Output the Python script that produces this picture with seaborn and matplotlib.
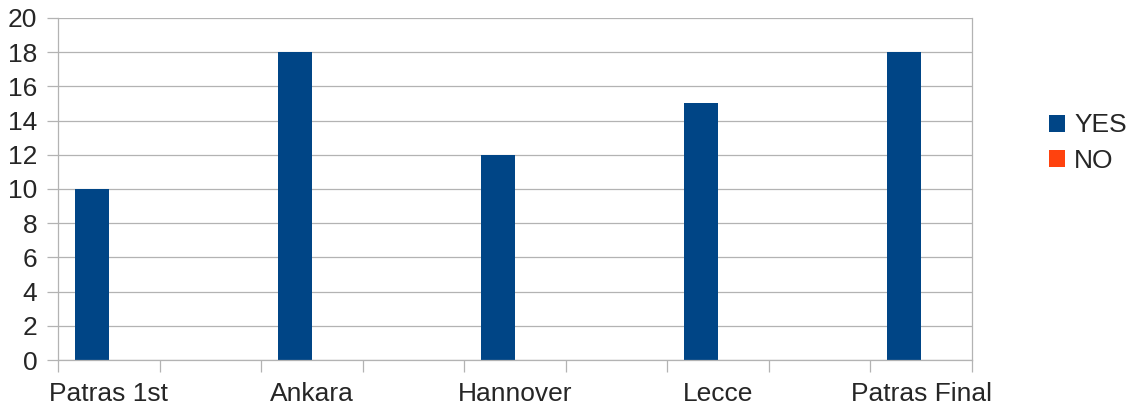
import pandas as pd
import matplotlib
matplotlib.use("Agg")
import matplotlib.pyplot as plt
import seaborn as sns

# chart data
events = ["Patras 1st", "Ankara", "Hannover", "Lecce", "Patras Final"]
yes_counts = [10, 18, 12, 15, 18]
no_counts = [0, 0, 0, 0, 0]
series = ["YES", "NO"]
colors = ["#004586", "#ff420e"]
y_ticks = [0, 2, 4, 6, 8, 10, 12, 14, 16, 18, 20]

grid_col = "#b3b3b3"
fs = 19

sns.set_style("white")
plt.rcParams["font.family"] = ["Liberation Sans", "DejaVu Sans"]
plt.rcParams["font.size"] = fs

# long-form table for seaborn
df = pd.DataFrame({
    "Event": events * 2,
    "Answer": ["YES"] * len(events) + ["NO"] * len(events),
    "Count": yes_counts + no_counts,
})

fig = plt.figure(figsize=(11.33, 4.11), dpi=100)
ax = fig.add_axes([58 / 1133, 1 - 360 / 411, (972 - 58) / 1133, (360 - 18) / 411])

sns.barplot(data=df, x="Event", y="Count", hue="Answer", hue_order=series,
            palette=colors, width=1 / 3, gap=0, saturation=1, ax=ax,
            errorbar=None, linewidth=0)

# axes range and grid
ax.set_ylim(0, 20)
ax.set_xlim(-0.25, len(events) - 0.75)
ax.set_yticks(y_ticks)
ax.yaxis.grid(True, color=grid_col, linewidth=0.9)
ax.set_axisbelow(True)
ax.set_xlabel("")
ax.set_ylabel("")

# category labels without marks, tick marks every half category
ax.set_xticks(range(len(events)))
ax.set_xticklabels(events)
ax.set_xticks([i * 0.5 - 0.25 for i in range(2 * len(events))], minor=True)
ax.tick_params(axis="x", which="major", bottom=True, length=0, pad=16, labelsize=fs)
ax.tick_params(axis="x", which="minor", bottom=True, length=8.5, width=0.9, color=grid_col)
ax.tick_params(axis="y", left=True, length=8, width=0.9, color=grid_col, pad=7, labelsize=fs)

for side in ["left", "bottom", "right"]:
    ax.spines[side].set_color(grid_col)
    ax.spines[side].set_linewidth(0.9)
ax.spines["top"].set_visible(False)

sns.move_legend(ax, "center left", bbox_to_anchor=(1049 / 1133, 1 - 143 / 411),
                bbox_transform=fig.transFigure, frameon=False, title=None,
                handlelength=0.6, handleheight=0.6, handletextpad=0.35,
                labelspacing=0.42, borderpad=0, borderaxespad=0, fontsize=fs)

fig.savefig("out.png", dpi=100)
